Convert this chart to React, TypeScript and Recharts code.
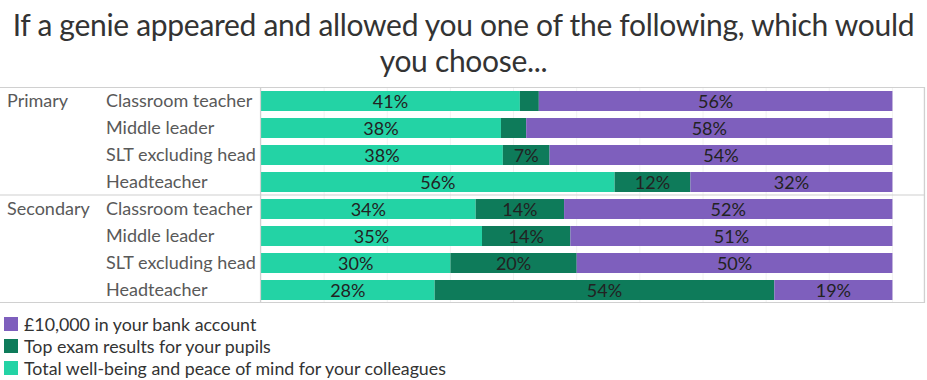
import { Bar, BarChart, CartesianGrid, LabelList, XAxis, YAxis } from 'recharts';

const groups = ['Primary', 'Primary', 'Primary', 'Primary', 'Secondary', 'Secondary', 'Secondary', 'Secondary'];
const roles = [
  'Classroom teacher',
  'Middle leader',
  'SLT excluding head',
  'Headteacher',
  'Classroom teacher',
  'Middle leader',
  'SLT excluding head',
  'Headteacher',
];
const wellbeing = [41, 38, 38.3, 56, 34, 35, 30, 27.5];
const exams = [3, 4, 7.4, 12, 14, 14, 20, 53.8];
const money = [56, 58, 54.3, 32, 52, 51, 50, 18.7];
const xTicks = [0, 10, 20, 30, 40, 50, 60, 70, 80, 90, 100];

const data = roles.map((role, i) => ({
  id: String(i),
  group: groups[i],
  role,
  wellbeing: wellbeing[i],
  exams: exams[i],
  money: money[i],
}));

const W = 927;
const H = 380;
const TOP = 87;
const BOTTOM = 303;
const PLOT_LEFT = 261;
const RIGHT = 924;
const ROW = (BOTTOM - TOP) / roles.length;

const PURPLE = '#7E5FBD';
const DARK = '#0E7B5A';
const TEAL = '#23D3A5';
const FONT = 'Lato, "Open Sans", sans-serif';

const series = [
  { key: 'wellbeing', name: 'Total well-being and peace of mind for your colleagues', color: TEAL },
  { key: 'exams', name: 'Top exam results for your pupils', color: DARK },
  { key: 'money', name: '£10,000 in your bank account', color: PURPLE },
];

function RoleTick(props: any) {
  const { y, payload } = props;
  const i = Number(payload.value);
  const first = i === 0 || groups[i - 1] !== groups[i];
  return (
    <g>
      {first && (
        <text x={7} y={y} dy={6} fill="#595959" fontSize={18} fontFamily={FONT}>
          {groups[i]}
        </text>
      )}
      <text x={106} y={y} dy={6} fill="#595959" fontSize={18} fontFamily={FONT}>
        {roles[i]}
      </text>
    </g>
  );
}

function SegLabel(props: any) {
  const { x, y, width, height, value } = props;
  if (value == null || value < 5) return null;
  return (
    <text
      x={x + width / 2}
      y={y + height / 2}
      dy={6.5}
      textAnchor="middle"
      fill="#222"
      fontSize={18}
      fontFamily={FONT}
    >
      {Math.round(value)}%
    </text>
  );
}

export default function App() {
  const groupBreaks = groups
    .map((g, i) => (i > 0 && groups[i - 1] !== g ? i : -1))
    .filter((i) => i > 0);
  return (
    <div style={{ position: 'absolute', left: 0, top: 0, width: W, height: H, background: '#fff' }}>
      <div
        style={{
          position: 'absolute',
          left: 0,
          top: 6,
          width: W,
          textAlign: 'center',
          fontFamily: FONT,
          fontSize: 30,
          lineHeight: '36px',
          letterSpacing: -0.3,
          color: '#333',
        }}
      >
        <div>If a genie appeared and allowed you one of the following, which would</div>
        <div>you choose...</div>
      </div>
      <div style={{ position: 'absolute', left: 0, top: 0 }}>
        <BarChart
          width={W}
          height={H}
          data={data}
          layout="vertical"
          barCategoryGap={0}
          margin={{ top: TOP, right: W - RIGHT, left: 0, bottom: H - BOTTOM }}
        >
          <CartesianGrid horizontal={false} stroke="#f2f2f2" />
          <XAxis type="number" domain={[0, 105]} ticks={xTicks} hide />
          <YAxis
            type="category"
            dataKey="id"
            width={PLOT_LEFT}
            axisLine={false}
            tickLine={false}
            tick={<RoleTick />}
            interval={0}
          />
          {series.map((s) => (
            <Bar
              key={s.key}
              dataKey={s.key}
              name={s.name}
              stackId="a"
              fill={s.color}
              barSize={20}
              isAnimationActive={false}
            >
              <LabelList dataKey={s.key} content={<SegLabel />} />
            </Bar>
          ))}
        </BarChart>
      </div>
      <svg width={W} height={H} style={{ position: 'absolute', left: 0, top: 0, pointerEvents: 'none' }}>
        <g stroke="#d0d0d0" strokeWidth={1.2}>
          <line x1={0} x2={RIGHT} y1={TOP + 0.5} y2={TOP + 0.5} />
          <line x1={0} x2={RIGHT} y1={BOTTOM - 0.5} y2={BOTTOM - 0.5} />
          {groupBreaks.map((i) => (
            <line key={i} x1={0} x2={RIGHT} y1={TOP + ROW * i} y2={TOP + ROW * i} />
          ))}
          <line x1={PLOT_LEFT - 0.5} x2={PLOT_LEFT - 0.5} y1={TOP} y2={BOTTOM} />
          <line x1={RIGHT + 0.5} x2={RIGHT + 0.5} y1={TOP} y2={BOTTOM} />
        </g>
      </svg>
      <div
        style={{
          position: 'absolute',
          left: 0,
          top: 313,
          fontFamily: FONT,
          fontSize: 17.8,
          color: '#333',
        }}
      >
        {[...series].reverse().map((s) => (
          <div key={s.key} style={{ display: 'flex', alignItems: 'center', height: 22 }}>
            <span style={{ width: 14, height: 14, background: s.color, marginRight: 6, marginLeft: 4 }} />
            <span>{s.name}</span>
          </div>
        ))}
      </div>
    </div>
  );
}
